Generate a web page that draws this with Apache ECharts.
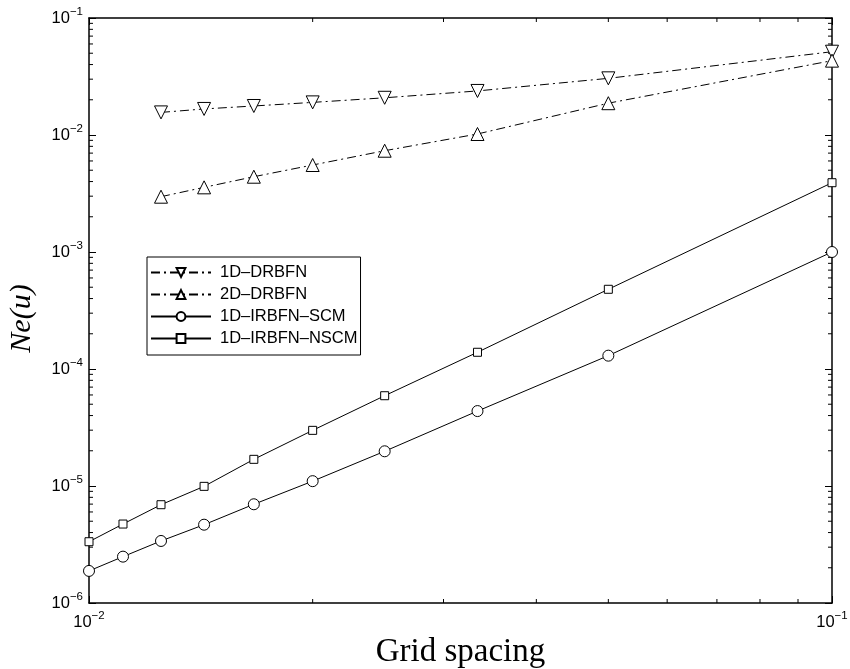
<!DOCTYPE html>
<html>
<head>
<meta charset="utf-8">
<script src="https://cdn.jsdelivr.net/npm/echarts@6/dist/echarts.min.js"></script>
<style>
  html, body { margin: 0; background: #fff; }
  #chart { width: 850px; height: 669px; }
</style>
</head>
<body>
<div id="chart"></div>
<script>
// grid spacing h (x) for the IRBFN runs, the DRBFN runs start at 1/80
const gridSpacing = [1/100, 1/90, 1/80, 1/70, 1/60, 1/50, 1/40, 1/30, 1/20, 1/10]
const drbfnSpacing = [1/80, 1/70, 1/60, 1/50, 1/40, 1/30, 1/20, 1/10]

// Ne(u)
const drbfn1D = [1.56e-2, 1.67e-2, 1.77e-2, 1.90e-2, 2.08e-2, 2.38e-2, 3.05e-2, 5.15e-2]
const drbfn2D = [2.97e-3, 3.57e-3, 4.40e-3, 5.54e-3, 7.34e-3, 1.02e-2, 1.87e-2, 4.32e-2]
const irbfnSCM = [1.88e-6, 2.49e-6, 3.39e-6, 4.67e-6, 6.98e-6, 1.10e-5, 1.98e-5, 4.37e-5, 1.30e-4, 1.0e-3]
const irbfnNSCM = [3.34e-6, 4.73e-6, 6.92e-6, 9.93e-6, 1.69e-5, 2.99e-5, 5.91e-5, 1.39e-4, 4.8e-4, 3.91e-3]

const seriesNames = ['1D–DRBFN', '2D–DRBFN', '1D–IRBFN–SCM', '1D–IRBFN–NSCM']

// axis ranges / ticks
const xMin = 1e-2, xMax = 1e-1
const yMin = 1e-6, yMax = 1e-1
const xTickExps = [-2, -1]
const yTickExps = [-6, -5, -4, -3, -2, -1]
const xMinorTicks = [0.02, 0.03, 0.04, 0.05, 0.06, 0.07, 0.08, 0.09]
const yMinorTicks = []
yTickExps.slice(0, -1).forEach(e => {
  for (let k = 2; k <= 9; k++) yMinorTicks.push(k * Math.pow(10, e))
})

const sans = 'Liberation Sans, Arial, sans-serif'
const serif = 'Liberation Serif, Times New Roman, serif'
const dashDot = [9, 4, 2, 4]

const expLabel = exps => v => {
  const e = Math.round(Math.log10(v))
  if (exps.indexOf(e) < 0) return ''
  return '{b|10}{e|' + (e < 0 ? '\u2212' : '') + Math.abs(e) + '}'
}
const labelRich = {
  b: { fontSize: 16.5, fontFamily: sans, color: '#000' },
  e: { fontSize: 11.5, fontFamily: sans, color: '#000', padding: [0, 0, 13, 0] }
}

const pairs = (xs, ys) => xs.map((x, i) => [x, ys[i]])

const lineSeries = (name, xs, ys, symbol, size, dashed, rotate) => ({
  name,
  type: 'line',
  data: pairs(xs, ys),
  symbol,
  symbolSize: size,
  symbolRotate: rotate || 0,
  showAllSymbol: true,
  lineStyle: { color: '#000', width: 1, type: dashed ? dashDot : 'solid' },
  itemStyle: { color: '#fff', borderColor: '#000', borderWidth: 1 },
  z: 5
})

const axisLine = { show: true, lineStyle: { color: '#000', width: 1.5 } }

const option = {
  animation: false,
  backgroundColor: '#fff',
  grid: { left: 89, right: 18, top: 18, bottom: 66, outerBoundsMode: 'none' },
  legend: {
    data: seriesNames,
    orient: 'vertical',
    left: 147,
    top: 257,
    backgroundColor: '#fff',
    borderColor: '#000',
    borderWidth: 1,
    borderRadius: 0,
    padding: [7, 3, 8, 3],
    itemGap: 5,
    itemWidth: 60,
    itemHeight: 11,
    textStyle: { fontSize: 16.5, lineHeight: 17, fontFamily: sans, color: '#000', padding: [0, 0, 0, 4] }
  },
  xAxis: [
    {
      type: 'log', logBase: 10, min: xMin, max: xMax,
      name: 'Grid spacing', nameLocation: 'middle', nameGap: 26,
      nameTextStyle: { fontSize: 33, fontFamily: serif, color: '#000' },
      axisLine,
      axisTick: { inside: true, length: 7, lineStyle: { color: '#000' } },
      axisLabel: { formatter: expLabel(xTickExps), rich: labelRich, margin: 7 },
      splitLine: { show: false }
    },
    {
      type: 'log', logBase: 10, min: xMin, max: xMax, position: 'top',
      axisLine,
      axisTick: { inside: true, length: 7, lineStyle: { color: '#000' } },
      axisLabel: { show: false },
      splitLine: { show: false }
    }
  ],
  yAxis: [
    {
      type: 'log', logBase: 10, min: yMin, max: yMax,
      name: 'Ne(u)', nameLocation: 'middle', nameGap: 52, nameRotate: 90,
      nameTextStyle: { fontSize: 30, fontFamily: serif, fontStyle: 'italic', color: '#000', padding: [0, 16, 0, 0] },
      axisLine,
      axisTick: { inside: true, length: 7, lineStyle: { color: '#000' } },
      axisLabel: { formatter: expLabel(yTickExps), rich: labelRich, margin: 6 },
      splitLine: { show: false }
    },
    {
      type: 'log', logBase: 10, min: yMin, max: yMax, position: 'right',
      axisLine,
      axisTick: { inside: true, length: 7, lineStyle: { color: '#000' } },
      axisLabel: { show: false },
      splitLine: { show: false }
    }
  ],
  series: [
    lineSeries(seriesNames[0], drbfnSpacing, drbfn1D, 'triangle', 13, true, 180),
    lineSeries(seriesNames[1], drbfnSpacing, drbfn2D, 'triangle', 13, true),
    lineSeries(seriesNames[2], gridSpacing, irbfnSCM, 'circle', 11, false),
    lineSeries(seriesNames[3], gridSpacing, irbfnNSCM, 'rect', 8, false),
    {
      // minor log ticks on bottom and top
      type: 'custom', silent: true, clip: false, z: 4,
      data: xMinorTicks.map(v => [v, yMin]),
      renderItem: (params, api) => {
        const b = api.coord([api.value(0), yMin])
        const t = api.coord([api.value(0), yMax])
        const st = { stroke: '#000', lineWidth: 1 }
        return { type: 'group', children: [
          { type: 'line', shape: { x1: b[0], y1: b[1], x2: b[0], y2: b[1] - 4 }, style: st },
          { type: 'line', shape: { x1: t[0], y1: t[1], x2: t[0], y2: t[1] + 4 }, style: st }
        ] }
      }
    },
    {
      // minor log ticks on left and right
      type: 'custom', silent: true, clip: false, z: 4,
      data: yMinorTicks.map(v => [xMin, v]),
      renderItem: (params, api) => {
        const l = api.coord([xMin, api.value(1)])
        const r = api.coord([xMax, api.value(1)])
        const st = { stroke: '#000', lineWidth: 1 }
        return { type: 'group', children: [
          { type: 'line', shape: { x1: l[0], y1: l[1], x2: l[0] + 4, y2: l[1] }, style: st },
          { type: 'line', shape: { x1: r[0], y1: r[1], x2: r[0] - 4, y2: r[1] }, style: st }
        ] }
      }
    }
  ]
}

echarts.init(document.getElementById('chart')).setOption(option)
</script>
</body>
</html>
